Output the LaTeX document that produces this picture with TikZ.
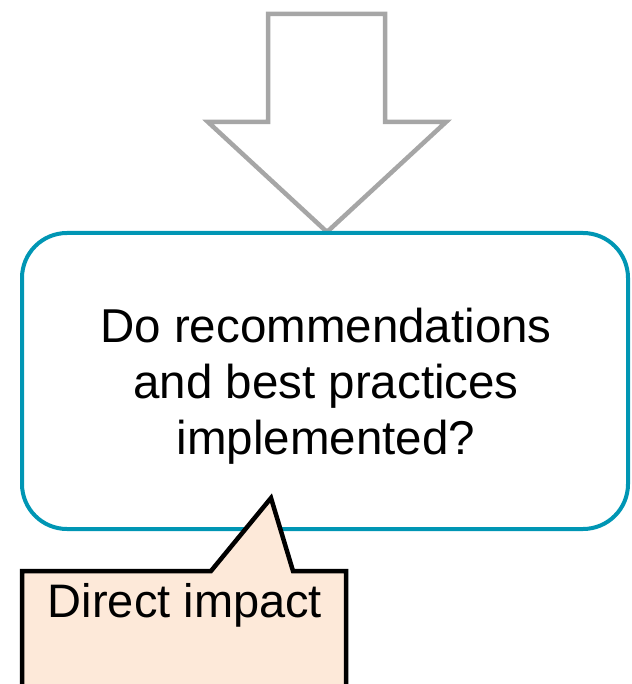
\documentclass[tikz,border=0pt]{standalone}
\usepackage{fontspec}
\setmainfont{Liberation Sans}
\usepackage{tikz}
\definecolor{arrowgray}{HTML}{A6A6A6}
\definecolor{boxteal}{HTML}{0096B4}
\definecolor{calloutfill}{HTML}{FDE9D9}

\begin{document}
\begin{tikzpicture}[x=1pt, y=-1pt,
        bigarrow/.style={draw=arrowgray, line width=4.5pt, fill=white, line join=miter},
        questionbox/.style={draw=boxteal, line width=4pt, rounded corners=45pt},
        calloutbox/.style={draw=black, line width=4.5pt, fill=calloutfill, line join=miter}]
        \useasboundingbox (0,0) rectangle (631,684);

        \draw[bigarrow] (268,14) -- (385,14) -- (385,122) -- (446,122)
            -- (327,232) -- (208,122) -- (268,122) -- cycle;

        \draw[questionbox] (22,233) rectangle (628,529);
        \node[align=center, font=\fontsize{47.5}{56}\selectfont] (question) at (326,386)
            {Do recommendations\\and best practices\\implemented?};

        \draw[calloutbox] (22,720) -- (22,571) -- (211,571) -- (271,498)
            -- (293,571) -- (346,571) -- (346,720);
        \node[anchor=base, font=\fontsize{47}{56}\selectfont] (impact) at (185,617) {Direct impact};
    \end{tikzpicture}
\end{document}
